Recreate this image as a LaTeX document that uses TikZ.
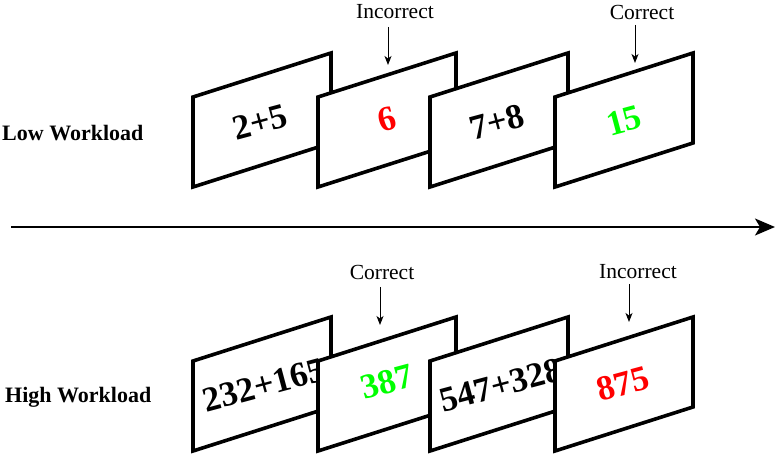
\documentclass[tikz,border=0pt]{standalone}
\usepackage{fontspec}
\setmainfont{Liberation Serif}
\usetikzlibrary{arrows.meta}
\definecolor{okgreen}{RGB}{0,255,0}
\definecolor{badred}{RGB}{255,0,0}
\begin{document}
\begin{tikzpicture}[x=1pt,y=-1pt,
  card/.style={draw=black,fill=white,line width=3.6pt,line join=miter},
  num/.style={font=\fontsize{35}{38}\selectfont\bfseries,inner sep=0pt,rotate=15},
  lab/.style={font=\fontsize{21.5}{24}\selectfont,inner sep=0pt},
  rowlab/.style={font=\fontsize{22}{25}\selectfont\bfseries,inner sep=0pt,anchor=west},
  pointer/.style={line width=1pt,-{Stealth[length=9pt,width=7pt,inset=2.5pt]}},
  timeline/.style={line width=2pt,-{Stealth[length=20pt,width=17pt,inset=5pt]}}]
\useasboundingbox (0,0) rectangle (777,454);
% row labels
\node[rowlab] (low) at (2,133) {Low Workload};
\node[rowlab] (high) at (5,397) {High Workload};
% time axis
\coordinate (t0) at (11,227);
\coordinate (t1) at (775,227);
\draw[timeline] (t0) -- (t1);
% ---------- top row ----------
\draw[card] (193,97) -- ++(138,-44) -- ++(0,90) -- ++(-138,44) -- cycle;
\node[num] (a1) at (260,122) {2+5};
\draw[card] (318,97) -- ++(138,-44) -- ++(0,90) -- ++(-138,44) -- cycle;
\node[num,text=badred] (a2) at (387,119) {6};
\draw[card] (430,97) -- ++(138,-44) -- ++(0,90) -- ++(-138,44) -- cycle;
\node[num] (a3) at (497,122) {7+8};
\draw[card] (555,97) -- ++(138,-44) -- ++(0,90) -- ++(-138,44) -- cycle;
\node[num,text=okgreen] (a4) at (624,121) {15};
% top labels
\node[lab] (l1) at (395,12) {Incorrect};
\coordinate (p1) at (388,27);
\coordinate (q1) at (388,65);
\draw[pointer] (p1) -- (q1);
\node[lab] (l2) at (642,12) {Correct};
\coordinate (p2) at (635,25);
\coordinate (q2) at (635,63);
\draw[pointer] (p2) -- (q2);
% ---------- bottom row ----------
\draw[card] (193,361) -- ++(138,-44) -- ++(0,90) -- ++(-138,44) -- cycle;
\node[num] (b1) at (264,385) {232+165};
\draw[card] (318,361) -- ++(138,-44) -- ++(0,90) -- ++(-138,44) -- cycle;
\node[num,text=okgreen] (b2) at (387,382) {387};
\draw[card] (430,361) -- ++(138,-44) -- ++(0,90) -- ++(-138,44) -- cycle;
\node[num] (b3) at (501,385) {547+328};
\draw[card] (555,361) -- ++(138,-44) -- ++(0,90) -- ++(-138,44) -- cycle;
\node[num,text=badred] (b4) at (623,384) {875};
% bottom labels
\node[lab] (l3) at (382,272) {Correct};
\coordinate (p3) at (380,287);
\coordinate (q3) at (380,325);
\draw[pointer] (p3) -- (q3);
\node[lab] (l4) at (638,272) {Incorrect};
\coordinate (p4) at (629,284);
\coordinate (q4) at (629,322);
\draw[pointer] (p4) -- (q4);
\end{tikzpicture}
\end{document}
